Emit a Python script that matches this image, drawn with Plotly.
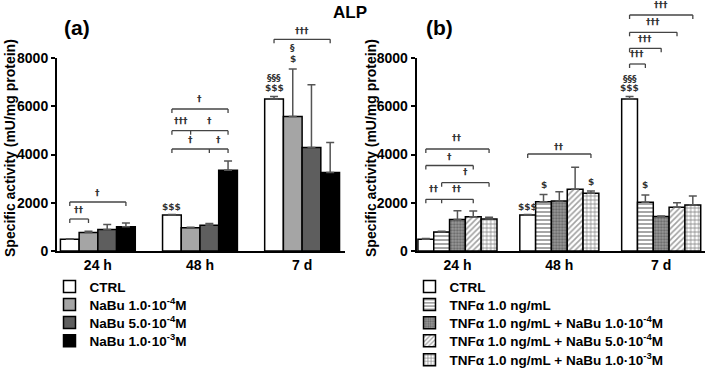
import plotly.graph_objects as go

W, H = 708, 370
FONT = "Liberation Sans, Arial, sans-serif"

# ---------------- data ----------------
categories = ["24 h", "48 h", "7 d"]

a_names = ["CTRL", "NaBu 1.0·10<sup>-4</sup>M", "NaBu 5.0·10<sup>-4</sup>M", "NaBu 1.0·10<sup>-3</sup>M"]
a_ctrl = [485, 1490, 6300]
a_ctrl_err = [25, 20, 100]
a_nabu1 = [770, 960, 5570]
a_nabu1_err = [45, 20, 1975]
a_nabu5 = [895, 1070, 4290]
a_nabu5_err = [200, 70, 2600]
a_nabu10 = [1010, 3345, 3250]
a_nabu10_err = [150, 385, 1250]

b_names = ["CTRL", "TNFα 1.0 ng/mL",
           "TNFα 1.0 ng/mL + NaBu 1.0·10<sup>-4</sup>M",
           "TNFα 1.0 ng/mL + NaBu 5.0·10<sup>-4</sup>M",
           "TNFα 1.0 ng/mL + NaBu 1.0·10<sup>-3</sup>M"]
b_ctrl = [490, 1490, 6300]
b_ctrl_err = [25, 20, 100]
b_tnf = [790, 2045, 2020]
b_tnf_err = [30, 300, 300]
b_tnf_n1 = [1310, 2070, 1425]
b_tnf_n1_err = [360, 390, 30]
b_tnf_n5 = [1420, 2560, 1810]
b_tnf_n5_err = [240, 910, 190]
b_tnf_n10 = [1325, 2390, 1905]
b_tnf_n10_err = [70, 100, 375]

yticks = [0, 2000, 4000, 6000, 8000]

# ---------------- layout geometry ----------------
def py(p):
    return 1 - p / H

def px(p):
    return p / W

dom_a = [px(57), px(345)]
dom_b = [px(416.7), px(705)]
rng_a = [-0.4, 2.42]
rng_b = [-0.4, 2.43]
ydom = [py(251), py(58)]
GW_A = 0.733
GW_B = 0.776

def xpos(cat, i, n, gw):
    bw = gw / n
    return cat - gw / 2 + bw * (i + 0.5)

fig = go.Figure()
legend_font = dict(family=FONT, size=13.5, color="black", weight="bold")
legends = {}
leg_rows_a = [286.7, 304.7, 322.8, 341]
leg_rows_b = [286.7, 304.7, 323, 341, 360]
leg_count = [0]

def new_legend(xleft, yrow):
    leg_count[0] += 1
    key = "legend" if leg_count[0] == 1 else "legend%d" % leg_count[0]
    legends[key] = dict(x=px(xleft), y=py(yrow), xanchor="left", yanchor="middle",
                        font=legend_font, bgcolor="rgba(0,0,0,0)", borderwidth=0)
    return key

a_series = [(a_ctrl, a_ctrl_err), (a_nabu1, a_nabu1_err), (a_nabu5, a_nabu5_err), (a_nabu10, a_nabu10_err)]
a_colors = ["white", "#a5a5a5", "#5e5e5e", "black"]
for i, ((vals, errs), name, col) in enumerate(zip(a_series, a_names, a_colors)):
    bw = GW_A / 4
    fig.add_trace(go.Bar(
        x=[0, 1, 2], y=vals, name=name, xaxis="x", yaxis="y",
        width=bw, offset=-GW_A / 2 + i * bw,
        marker=dict(color=col, line=dict(color="black", width=1.5)),
        error_y=dict(type="data", array=errs, arrayminus=[0, 0, 0], symmetric=False,
                     color="#555", thickness=1.5, width=4),
        legend=new_legend(49.5, leg_rows_a[i]),
    ))

b_series = [(b_ctrl, b_ctrl_err), (b_tnf, b_tnf_err), (b_tnf_n1, b_tnf_n1_err),
            (b_tnf_n5, b_tnf_n5_err), (b_tnf_n10, b_tnf_n10_err)]
b_patterns = [
    dict(shape=""),
    dict(shape="-", fgcolor="black", bgcolor="white", size=4, solidity=0.35),
    dict(shape=".", fgcolor="#333", bgcolor="#9a9a9a", size=3, solidity=0.45),
    dict(shape="/", fgcolor="#444", bgcolor="white", size=4, solidity=0.4),
    dict(shape="+", fgcolor="black", bgcolor="white", size=4, solidity=0.35),
]
for i, ((vals, errs), name, pat) in enumerate(zip(b_series, b_names, b_patterns)):
    bw = GW_B / 5
    fig.add_trace(go.Bar(
        x=[0, 1, 2], y=vals, name=name, xaxis="x2", yaxis="y2",
        width=bw, offset=-GW_B / 2 + i * bw,
        marker=dict(color="white", line=dict(color="black", width=1.5), pattern=pat),
        error_y=dict(type="data", array=errs, arrayminus=[0, 0, 0], symmetric=False,
                     color="#555", thickness=1.5, width=4),
        legend=new_legend(409.5, leg_rows_b[i]),
    ))

# ---------------- significance brackets ----------------
# (xaxis, category, first bar, last bar, inner ticks, bracket y px)
brackets = [
    ("x", 0, 0, 1, [], 219), ("x", 0, 0, 3, [], 202),
    ("x", 1, 0, 3, [2], 149), ("x", 1, 0, 3, [1], 130.7), ("x", 1, 0, 3, [], 109),
    ("x", 2, 0, 3, [], 39.3),
    ("x2", 0, 0, 3, [1], 199.3), ("x2", 0, 1, 4, [], 182.7), ("x2", 0, 0, 3, [], 165.5),
    ("x2", 0, 0, 4, [], 149),
    ("x2", 1, 0, 4, [], 154),
    ("x2", 2, 0, 1, [], 64), ("x2", 2, 0, 2, [], 48.3), ("x2", 2, 0, 3, [], 32.3),
    ("x2", 2, 0, 4, [], 15),
]
# (xaxis, category, bar position, y px, text)
labels = [
    ("x", 0, 0.5, 210, "††"), ("x", 0, 1.5, 193, "†"),
    ("x", 1, 1.0, 140, "†"), ("x", 1, 2.5, 140, "†"),
    ("x", 1, 0.5, 121, "†††"), ("x", 1, 2.0, 121, "†"),
    ("x", 1, 1.5, 98.5, "†"),
    ("x", 1, 0, 207, "$$$"),
    ("x", 2, 1.5, 31, "†††"),
    ("x", 2, 0, 78, "§§§"), ("x", 2, 0, 88, "$$$"),
    ("x", 2, 1, 48, "§"), ("x", 2, 1, 59, "$"),
    ("x2", 0, 0.5, 189.3, "††"), ("x2", 0, 2.0, 189.3, "††"),
    ("x2", 0, 2.5, 172.3, "†"), ("x2", 0, 1.5, 156.7, "†"), ("x2", 0, 2.0, 137.5, "††"),
    ("x2", 1, 2.0, 146.5, "††"),
    ("x2", 1, 0, 206.7, "$$$"), ("x2", 1, 1, 185, "$"), ("x2", 1, 4, 182.3, "$"),
    ("x2", 2, 0.5, 54, "†††"), ("x2", 2, 1.0, 39.3, "†††"), ("x2", 2, 1.5, 22.3, "†††"),
    ("x2", 2, 2.0, 5, "†††"),
    ("x2", 2, 0, 79, "§§§"), ("x2", 2, 0, 88.3, "$$$"), ("x2", 2, 1, 185, "$"),
]

def bar_x(xr, cat, pos):
    n, gw = (4, GW_A) if xr == "x" else (5, GW_B)
    return xpos(cat, pos, n, gw)

LC = "#444"
for xr, cat, i0, i1, ticks, yb in brackets:
    x0, x1 = bar_x(xr, cat, i0), bar_x(xr, cat, i1)
    fig.add_shape(type="line", xref=xr, yref="paper", x0=x0, x1=x1, y0=py(yb), y1=py(yb),
                  line=dict(color=LC, width=1.3))
    for t in [i0, i1] + ticks:
        xt = bar_x(xr, cat, t)
        fig.add_shape(type="line", xref=xr, yref="paper", x0=xt, x1=xt, y0=py(yb), y1=py(yb + 4),
                      line=dict(color=LC, width=1.3))

for xr, cat, pos, yl, txt in labels:
    fig.add_annotation(xref=xr, yref="paper", x=bar_x(xr, cat, pos), y=py(yl), text=txt,
                       showarrow=False, xanchor="center", yanchor="middle",
                       font=dict(family="DejaVu Sans, sans-serif", size=9, color="#333", weight="bold"))

# ---------------- titles ----------------
def title_ann(x, y, text, size, angle=0):
    fig.add_annotation(xref="paper", yref="paper", x=px(x), y=py(y), text=text, showarrow=False,
                       xanchor="center", yanchor="middle", textangle=angle,
                       font=dict(family=FONT, size=size, color="black", weight="bold"))

title_ann(350, 12, "ALP", 17)
title_ann(76.5, 27, "(a)", 21)
title_ann(439, 27, "(b)", 21)
for xc in (10, 371):
    title_ann(xc, 148, "Specific activity (mU/mg protein)", 14, -90)

axis_font = dict(family=FONT, size=14, color="black", weight="bold")
xcommon = dict(tickvals=[0, 1, 2], ticktext=categories, showline=True, linecolor="black",
               linewidth=2, ticks="", showgrid=False, zeroline=False, tickfont=axis_font)
ycommon = dict(range=[0, 8000], tickvals=yticks, showline=True, linecolor="black", linewidth=2,
               ticks="outside", ticklen=4, tickwidth=2, tickcolor="black", showgrid=False,
               zeroline=False, tickfont=axis_font, domain=ydom)

fig.update_layout(
    width=W, height=H, margin=dict(l=0, r=0, t=0, b=0, autoexpand=False),
    paper_bgcolor="white", plot_bgcolor="white",
    barmode="overlay",
    xaxis=dict(domain=dom_a, range=rng_a, anchor="y", **xcommon),
    yaxis=dict(anchor="x", **ycommon),
    xaxis2=dict(domain=dom_b, range=rng_b, anchor="y2", **xcommon),
    yaxis2=dict(anchor="x2", **ycommon),
    showlegend=True,
    **legends,
)

fig.write_html("out.html", config={"displayModeBar": False},
               post_script="document.body.style.margin='0px';")
